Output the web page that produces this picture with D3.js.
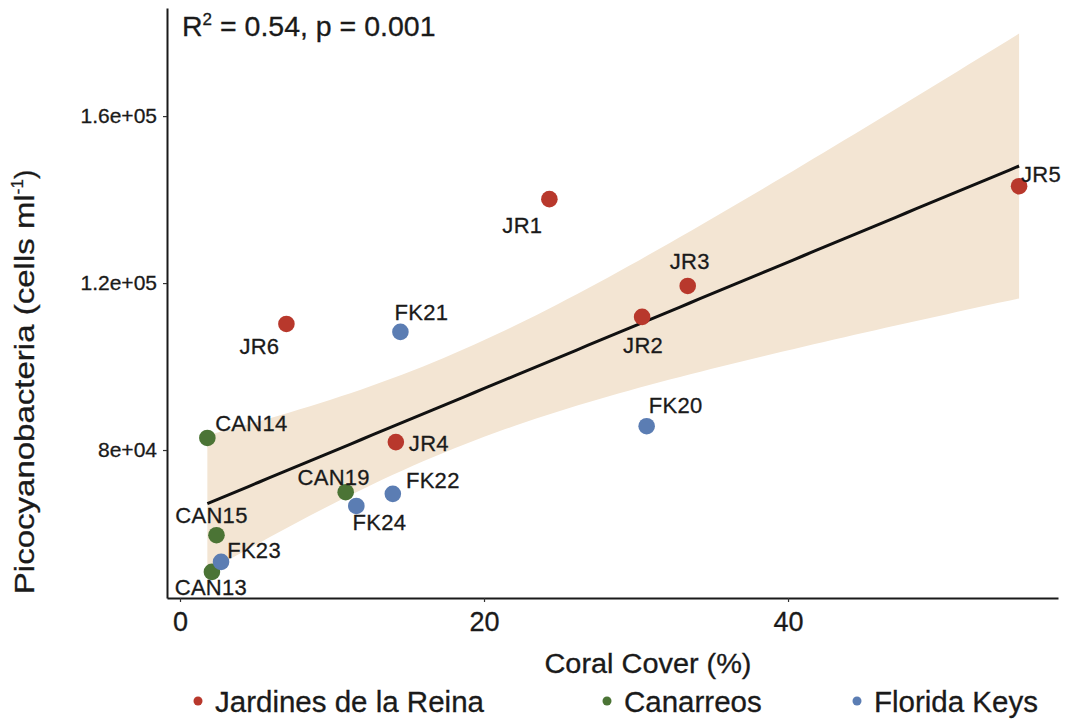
<!DOCTYPE html>
<html>
<head>
<meta charset="utf-8">
<script src="https://cdn.jsdelivr.net/npm/d3@7"></script>
<style>
  html, body { margin: 0; padding: 0; background: #fff; }
  svg { display: block; }
  text { font-family: "Liberation Sans", Arial, Helvetica, sans-serif; fill: #1a1a1a; stroke: #1a1a1a; stroke-width: 0.3px; }
</style>
</head>
<body>
<svg id="chart" width="1065" height="727"></svg>
<script>
// ---------------- data ----------------
const sites      = ["JR1","JR2","JR3","JR4","JR5","JR6","CAN13","CAN14","CAN15","CAN19","FK20","FK21","FK22","FK23","FK24"];
const regionOf   = ["Jardines de la Reina","Jardines de la Reina","Jardines de la Reina","Jardines de la Reina","Jardines de la Reina","Jardines de la Reina",
                    "Canarreos","Canarreos","Canarreos","Canarreos",
                    "Florida Keys","Florida Keys","Florida Keys","Florida Keys","Florida Keys"];
const coralCover = [24.3, 30.4, 33.4, 14.2, 55.2, 7.0, 2.1, 1.8, 2.4, 10.9, 30.7, 14.5, 14.0, 2.7, 11.6];
const picoCells  = [140100, 111900, 119300, 81900, 143200, 110200, 50800, 82900, 59600, 69900, 85700, 108300, 69500, 53200, 66600];

const regions    = ["Jardines de la Reina","Canarreos","Florida Keys"];
const xTicks     = [0, 20, 40];
const yTicks     = [80000, 120000, 160000];
const yTickLabels= ["8e+04","1.2e+05","1.6e+05"];

// ---------------- layout / style ----------------
const colors = { "Jardines de la Reina": "#b8382c", "Canarreos": "#4b7435", "Florida Keys": "#5b7db3" };
// label offsets (px) from point centre to label centre
const labelNudge = {
  JR1:[-27,26], JR2:[1,28], JR3:[2,-25], JR4:[33,1], JR5:[22,-12], JR6:[-27,22],
  CAN13:[-1,15], CAN14:[44,-15], CAN15:[-5,-20], CAN19:[-12,-15],
  FK20:[29,-21], FK21:[21,-20], FK22:[40,-14], FK23:[33,-12], FK24:[23,16]
};

const svg = d3.select("#chart");
const pLeft = 167, pRight = 1058, pTop = 8, pBottom = 598;

const x = d3.scaleLinear().domain([-0.855, 57.76]).range([pLeft, pRight]);
const y = d3.scaleLinear().domain([44550, 185900]).range([pBottom, pTop]);

const data = sites.map((s, i) => ({ site: s, region: regionOf[i], x: coralCover[i], y: picoCells[i] }));

// ---------------- linear fit + 95% CI (as geom_smooth(method="lm")) ----------------
const n = data.length;
const xbar = d3.mean(data, d => d.x), ybar = d3.mean(data, d => d.y);
const Sxx = d3.sum(data, d => (d.x - xbar) ** 2);
const Sxy = d3.sum(data, d => (d.x - xbar) * (d.y - ybar));
const slope = Sxy / Sxx, intercept = ybar - slope * xbar;
const sse = d3.sum(data, d => (d.y - (intercept + slope * d.x)) ** 2);
const sdRes = Math.sqrt(sse / (n - 2));
const tq = 2.160; // t(0.975, df = 13)
const [xmin, xmax] = d3.extent(data, d => d.x);
const fit = d3.range(80).map(k => {
  const xv = xmin + (xmax - xmin) * k / 79;
  const yv = intercept + slope * xv;
  const se = sdRes * Math.sqrt(1 / n + (xv - xbar) ** 2 / Sxx);
  return { x: xv, y: yv, lo: yv - tq * se, hi: yv + tq * se };
});

svg.append("path")
  .datum(fit)
  .attr("d", d3.area().x(d => x(d.x)).y0(d => y(d.lo)).y1(d => y(d.hi)))
  .attr("fill", "#f3e5d3");

svg.append("path")
  .datum(fit)
  .attr("d", d3.line().x(d => x(d.x)).y(d => y(d.y)))
  .attr("fill", "none").attr("stroke", "#111").attr("stroke-width", 3);

// ---------------- axes ----------------
const xAxis = svg.append("g").attr("transform", `translate(0,${pBottom})`)
  .call(d3.axisBottom(x).tickValues(xTicks).tickSize(4).tickPadding(6).tickSizeOuter(0));
xAxis.select(".domain").attr("stroke", "#1a1a1a").attr("stroke-width", 2);
xAxis.selectAll(".tick line").attr("stroke", "#333").attr("stroke-width", 1.2);
xAxis.selectAll(".tick text").attr("font-size", 27).attr("fill", "#1a1a1a").attr("dy", "0.85em");

const yAxis = svg.append("g").attr("transform", `translate(${pLeft},0)`)
  .call(d3.axisLeft(y).tickValues(yTicks).tickFormat((d, i) => yTickLabels[i]).tickSize(4).tickPadding(6).tickSizeOuter(0));
yAxis.select(".domain").attr("stroke", "#1a1a1a").attr("stroke-width", 2);
yAxis.selectAll(".tick line").attr("stroke", "#333").attr("stroke-width", 1.2);
yAxis.selectAll(".tick text").attr("font-size", 21).attr("fill", "#1a1a1a");

// ---------------- points + labels ----------------
svg.append("g").selectAll("circle").data(data).join("circle")
  .attr("cx", d => x(d.x)).attr("cy", d => y(d.y)).attr("r", 8.3)
  .attr("fill", d => colors[d.region]);

svg.append("g").selectAll("text").data(data).join("text")
  .attr("x", d => x(d.x) + labelNudge[d.site][0])
  .attr("y", d => y(d.y) + labelNudge[d.site][1])
  .attr("dy", "0.35em").attr("text-anchor", "middle")
  .attr("font-size", 22).attr("letter-spacing", 0.3).attr("fill", "#1a1a1a")
  .text(d => d.site);

// ---------------- stats label ----------------
const st = svg.append("text").attr("x", 182).attr("y", 36).attr("font-size", 28.5);
st.append("tspan").text("R");
st.append("tspan").attr("font-size", 17).attr("dy", -11).text("2");
st.append("tspan").attr("dy", 11).text(" = 0.54, p = 0.001");

// ---------------- axis titles ----------------
svg.append("text").attr("x", 648).attr("y", 673).attr("text-anchor", "middle")
  .attr("font-size", 27).attr("textLength", 207).attr("lengthAdjust", "spacingAndGlyphs")
  .text("Coral Cover (%)");

const yt = svg.append("text").attr("transform", "translate(34,382) rotate(-90)")
  .attr("text-anchor", "middle").attr("font-size", 28);
yt.append("tspan").attr("textLength", 400).attr("lengthAdjust", "spacingAndGlyphs").text("Picocyanobacteria (cells ml");
yt.append("tspan").attr("font-size", 17).attr("dy", -11).text("-1");
yt.append("tspan").attr("dy", 11).text(")");

// ---------------- legend ----------------
const legendX = [198, 607, 857];
const lg = svg.append("g").selectAll("g").data(regions).join("g")
  .attr("transform", (d, i) => `translate(${legendX[i]},701)`);
lg.append("circle").attr("r", 4.5).attr("fill", d => colors[d]);
lg.append("text").attr("x", 17).attr("y", 11).attr("font-size", 29.5).text(d => d);
</script>
</body>
</html>
